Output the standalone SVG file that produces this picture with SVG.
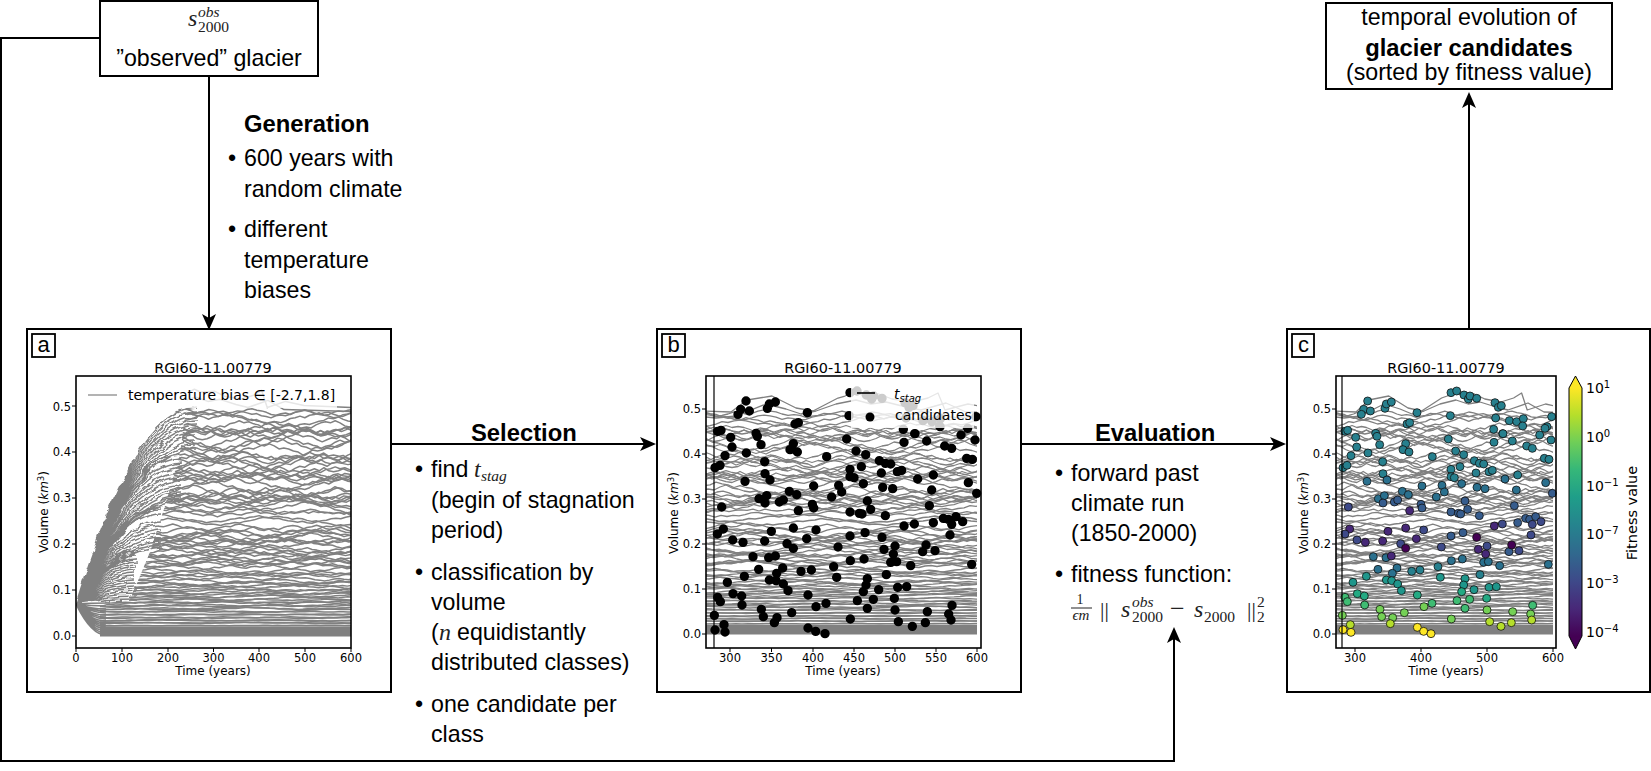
<svg xmlns="http://www.w3.org/2000/svg" width="1651" height="771" viewBox="0 0 1651 771">
<style>
text{font-family:"Liberation Sans",Arial,sans-serif;fill:#000}
.b23{font-size:23.2px}
.bold{font-size:23.8px;font-weight:bold}
.m{font-family:"Liberation Serif","Times New Roman",serif;font-style:italic;fill:#222}
.mu{font-family:"Liberation Serif","Times New Roman",serif;fill:#222}
.s14{font-size:15.5px}
.ax text,text.ax{font-family:"DejaVu Sans",sans-serif}
.tk{font-size:11.5px}.tx{text-anchor:middle}.ty{text-anchor:end}
.ttl{font-size:14.4px;text-anchor:middle}
.lab{font-size:12px;text-anchor:middle}
.leg{font-size:14px}
.frame{fill:#fff;stroke:#000;stroke-width:2}
.axes{fill:none;stroke:#000;stroke-width:1.6}
.tick{fill:none;stroke:#000;stroke-width:1}
.run{fill:none;vector-effect:non-scaling-stroke}
.runs{fill:none;stroke:#808080;stroke-linejoin:round}
.conn{fill:none;stroke:#000;stroke-width:2;marker-end:url(#arrow)}
.tag{fill:#fff;stroke:#000;stroke-width:1.8}
.tagt{font-size:22px;text-anchor:middle}
.legbox{fill:#fff;fill-opacity:.8}
#dotsC circle{stroke:#111;stroke-width:2.4}
.a{fill:#27808e}.b{fill:#2a708e}.c{fill:#365c8d}.d{fill:#3e4a89}.e{fill:#472878}.f{fill:#440154}.g{fill:#1f968b}.h{fill:#24aa83}.i{fill:#3fbc73}.j{fill:#74d055}.k{fill:#b5de2b}.l{fill:#fde725}
</style>
<defs>
<marker id="arrow" markerUnits="userSpaceOnUse" markerWidth="20" markerHeight="18" refX="14" refY="9" orient="auto"><path d="M1 2L17 9L1 16L5 9Z" fill="#000"/></marker>
<filter id="wig" x="-5%" y="-5%" width="110%" height="110%" color-interpolation-filters="sRGB"><feTurbulence type="fractalNoise" baseFrequency="0.05 0.07" numOctaves="3" seed="4" result="n"/><feDisplacementMap in="SourceGraphic" in2="n" scale="9" xChannelSelector="R" yChannelSelector="G"/></filter>
<clipPath id="clipA"><path d="M100 648V606L110 603L130 600L150 552L165 506L180 454L190 376H351V648Z"/></clipPath>
<clipPath id="clipA0"><rect x="76" y="376" width="275" height="272"/></clipPath>
<clipPath id="clipB"><rect x="706" y="376" width="271" height="272"/></clipPath>
<clipPath id="clipC"><rect x="1336" y="376" width="217" height="272"/></clipPath>
<linearGradient id="viridis" x1="0" y1="1" x2="0" y2="0"><stop offset="0" stop-color="#440154"/><stop offset=".11" stop-color="#482878"/><stop offset=".22" stop-color="#3e4989"/><stop offset=".33" stop-color="#31688e"/><stop offset=".44" stop-color="#26828e"/><stop offset=".56" stop-color="#1f9e89"/><stop offset=".67" stop-color="#35b779"/><stop offset=".78" stop-color="#6ece58"/><stop offset=".89" stop-color="#b5de2b"/><stop offset="1" stop-color="#fde725"/></linearGradient>
<path id="m1" class="run" d="M0 0l6 1 6-2 6-1 6 2 6 3 6-1 6-2 6-3 6 1 6 2 6-1 6-3 6-2 6 2 6 1 6 3 6 2 6-1 6 1 6 3 6-2 6-1 6-3 6 1 6-2 6-2 6 2 6 3 6 1 6-1 6 2 6 1 6 3 6-3 6-2 6-1 6-2 6 1 6-3 6-1 6 2 6 1 6 2 6 3 6 1 6-2 6-1 6 2 6-3 6-2 6-1 6 1 6 3 6 2 6 1 6-1 6-3 6-2 6 1 6-2 6-1 6 2 6 3 6 2 6-1 6-2 6 3 6 1 6-1 6-3 6-2 6 1 6 2 6-1 6-2 6-1 6 2 6 3 6 1 6 2 6-2 6-1 6-3 6 1 6 2 6 3 6-1 6-2 6 1 6-1 6 2 6 1 6-3 6-1"/>
<path id="m2" class="run" d="M0 0l6-2 6-1 6-3 6-2 6 1 6-2 6-1 6-3 6 2 6-1 6-2 6 1 6 3 6 2 6 1 6 3 6 2 6-1 6 3 6 1 6 2 6 2 6-1 6 1 6 3 6-2 6 1 6 2 6-1 6-3 6-2 6-1 6-3 6 1 6-2 6-3 6-1 6 2 6-3 6-1 6-2 6 1 6 2 6-1 6 2 6 3 6 2 6 1 6 3 6-1 6 2 6 1 6 3 6-2 6-1 6 1 6-2 6-3 6-1 6-2 6 2 6-3 6-1 6-2 6 3 6 1 6 2 6-1 6 3 6 2 6 1 6 2 6-2 6 3 6 1 6-3 6-2 6-1 6-3 6-1 6 1 6-3 6-2 6 2 6 1 6-1 6 3 6 2 6 1 6-1 6 3 6-2 6 1 6 2"/>
<path id="m3" class="run" d="M0 0l6 2 6 3 6 1 6-1 6 2 6 3 6-2 6 1 6 2 6-1 6-3 6-1 6-2 6-3 6 1 6-2 6-1 6 1 6-3 6-2 6 3 6 1 6 2 6 1 6-1 6 3 6 2 6-2 6 1 6 3 6 1 6-1 6-3 6-2 6 1 6-3 6-1 6-2 6 2 6-1 6-3 6 1 6 2 6 3 6-1 6 2 6 3 6 1 6 2 6-1 6-2 6 3 6-1 6-3 6-2 6 1 6-3 6-1 6-2 6 2 6-1 6 2 6 1 6 3 6 2 6-2 6 1 6 3 6-1 6 2 6-3 6-2 6-1 6 1 6-3 6-2 6-1 6 1 6-2 6 2 6 3 6 1 6-1 6 2 6 3 6-2 6 1 6-1 6-2 6 1 6-3 6 2 6-1 6 1"/>
<path id="m4" class="run" d="M0 0l6-1 6 2 6-2 6 1 6-3 6 2 6-1 6-2 6 3 6-1 6 2 6 1 6-2 6 3 6-3 6 1 6-1 6 2 6-2 6-1 6 1 6-2 6 3 6-3 6 2 6 1 6-1 6-2 6 2 6 3 6-2 6-1 6 1 6-3 6 2 6 1 6 3 6-1 6-2 6 1 6 2 6 3 6-3 6-1 6 2 6-2 6-1 6-3 6 1 6-2 6-1 6 2 6 3 6-1 6 1 6 3 6 2 6-1 6-3 6 1 6-2 6-1 6-2 6 1 6 3 6 2 6-1 6 2 6-2 6 3 6-3 6-1 6 1 6 2 6-2 6-1 6-3 6 2 6 1 6 3 6-1 6 1 6-2 6-1 6 3 6 1 6-2 6 2 6-1 6-3 6 2 6 1 6-2 6 1"/>
<g id="core" class="runs">
<use href="#m1" transform="translate(-20 414) scale(1 .7)"/>
<use href="#m2" transform="translate(-80 420) scale(1 .8)"/>
<use href="#m3" transform="translate(-150 425) scale(1 1)"/>
<use href="#m4" transform="translate(-40 431) scale(1 1)"/>
<use href="#m1" transform="translate(-120 437) scale(1 -1)"/>
<use href="#m2" transform="translate(-10 443) scale(1 1)"/>
<use href="#m3" transform="translate(-60 449) scale(1 -1)"/>
<use href="#m4" transform="translate(-170 455) scale(1 1)"/>
<use href="#m1" transform="translate(-90 460) scale(1 1)"/>
<use href="#m2" transform="translate(-140 465) scale(1 -1)"/>
<use href="#m3" transform="translate(-30 470) scale(1 .9)"/>
<use href="#m4" transform="translate(-110 475) scale(1 -1)"/>
<use href="#m1" transform="translate(-180 480) scale(1 -.9)"/>
<use href="#m2" transform="translate(-50 485) scale(1 .9)"/>
<use href="#m3" transform="translate(-100 490) scale(1 1)"/>
<use href="#m4" transform="translate(-15 494) scale(1 -.9)"/>
<use href="#m1" transform="translate(-160 498) scale(1 .8)"/>
<use href="#m2" transform="translate(-70 502) scale(1 -.8)"/>
<use href="#m3" transform="translate(-130 506) scale(1 -.7)"/>
<use href="#m4" transform="translate(-85 511) scale(1 .6)"/>
<use href="#m2" transform="translate(-155 519) scale(1 .5)"/>
<use href="#m1" transform="translate(-35 527) scale(1 .7)"/>
<use href="#m3" transform="translate(-175 531) scale(1 .7)"/>
<use href="#m2" transform="translate(-125 535) scale(1 -.7)"/>
<use href="#m4" transform="translate(-55 539) scale(1 .7)"/>
<use href="#m1" transform="translate(-145 543) scale(1 -.6)"/>
<use href="#m3" transform="translate(-5 547) scale(1 .6)"/>
<use href="#m2" transform="translate(-95 551) scale(1 .6)"/>
<use href="#m4" transform="translate(-185 555) scale(1 -.6)"/>
<use href="#m1" transform="translate(-65 559) scale(1 .6)"/>
<use href="#m3" transform="translate(-115 563) scale(1 -.5)"/>
<use href="#m2" transform="translate(-25 567) scale(1 .5)"/>
<use href="#m4" transform="translate(-155 571) scale(1 .4)"/>
<use href="#m1" transform="translate(-45 575) scale(1 -.4)"/>
<use href="#m3" transform="translate(-105 579) scale(1 .4)"/>
<use href="#m2" transform="translate(-165 582) scale(1 .3)"/>
<use href="#m4" transform="translate(-75 586) scale(1 -.3)"/>
<use href="#m1" transform="translate(-135 589) scale(1 .3)"/>
<use href="#m3" transform="translate(-20 592) scale(1 .2)"/>
<use href="#m2" transform="translate(-90 595) scale(1 -.2)"/>
<use href="#m4" transform="translate(-150 598) scale(1 .2)"/>
<use href="#m1" transform="translate(-60 601) scale(1 .2)"/>
<use href="#m3" transform="translate(-120 604) scale(1 .15)"/>
<use href="#m2" transform="translate(-40 607) scale(1 .15)"/>
<use href="#m4" transform="translate(-170 610) scale(1 .1)"/>
<use href="#m1" transform="translate(-80 613) scale(1 .1)"/>
<use href="#m3" transform="translate(-10 616) scale(1 .08)"/>
<use href="#m2" transform="translate(-130 618.500) scale(1 .08)"/>
<use href="#m4" transform="translate(-100 621) scale(1 .06)"/>
</g>
<g id="extra" class="runs">
<path class="run" d="M-30 410L25 412L41 400L66 396L90 408L107 411L132 398L139 396L148 392L156 395L173 394L186 399L206 402L222 398L232 393L239 410L262 404L285 408L345 410"/>
<path class="run" d="M-30 414L10 418L30 416L60 404L80 409L95 414L110 411L130 404L150 400L165 404L180 402L200 407L215 410L240 403L260 412L345 414"/>
<rect x="-30" y="624.500" width="400" height="10" fill="#808080" stroke="none"/>
</g>
</defs>
<rect width="1651" height="771" fill="#fff"/>

<g id="connectors">
<path class="conn" d="M209 76V327"/>
<path class="conn" d="M100 38H1V761H1174V630"/>
<path class="conn" d="M391 444H653"/>
<path class="conn" d="M1021 444H1283"/>
<path class="conn" d="M1469 329V95"/>
</g>

<g id="node-observed">
<rect x="100" y="1" width="218" height="75" fill="#fff" stroke="#000" stroke-width="2"/>
<text class="m" x="188" y="26" font-size="24">s</text><text class="m s14" x="198" y="17">obs</text><text class="mu s14" x="198" y="32">2000</text>
<text class="b23" x="209" y="66" text-anchor="middle">”observed” glacier</text>
</g>

<g id="node-result">
<rect x="1326" y="3" width="286" height="86" fill="#fff" stroke="#000" stroke-width="2"/>
<text class="b23" x="1469" y="25" text-anchor="middle">temporal evolution of</text>
<text class="bold" x="1469" y="56" text-anchor="middle">glacier candidates</text>
<text class="b23" x="1469" y="80" text-anchor="middle">(sorted by fitness value)</text>
</g>

<g id="note-generation">
<text class="bold" x="244" y="132">Generation</text>
<text class="b23" x="228" y="166">•</text><text class="b23" x="244" y="166">600 years with</text>
<text class="b23" x="244" y="197">random climate</text>
<text class="b23" x="228" y="237">•</text><text class="b23" x="244" y="237">different</text>
<text class="b23" x="244" y="268">temperature</text>
<text class="b23" x="244" y="298">biases</text>
</g>

<g id="note-selection">
<text class="bold" x="471" y="441">Selection</text>
<text class="b23" x="415" y="477">•</text><text class="b23" x="431" y="477">find</text><text class="m" x="474" y="477" font-size="24">t</text><text class="m s14" x="481" y="481">stag</text>
<text class="b23" x="431" y="508">(begin of stagnation</text>
<text class="b23" x="431" y="538">period)</text>
<text class="b23" x="415" y="580">•</text><text class="b23" x="431" y="580">classification by</text>
<text class="b23" x="431" y="610">volume</text>
<text class="b23" x="431" y="640">(</text><text class="m" x="439" y="640" font-size="24">n</text><text class="b23" x="457" y="640">equidistantly</text>
<text class="b23" x="431" y="670">distributed classes)</text>
<text class="b23" x="415" y="712">•</text><text class="b23" x="431" y="712">one candidate per</text>
<text class="b23" x="431" y="742">class</text>
</g>

<g id="note-evaluation">
<text class="bold" x="1095" y="441">Evaluation</text>
<text class="b23" x="1055" y="481">•</text><text class="b23" x="1071" y="481">forward past</text>
<text class="b23" x="1071" y="511">climate run</text>
<text class="b23" x="1071" y="541">(1850-2000)</text>
<text class="b23" x="1055" y="582">•</text><text class="b23" x="1071" y="582">fitness function:</text>
<text class="mu" x="1080" y="604" font-size="14" text-anchor="middle">1</text>
<path d="M1071 608H1092" stroke="#222" stroke-width="1"/>
<text class="m" x="1081" y="620" font-size="15" text-anchor="middle">ϵm</text>
<text class="mu" x="1100" y="617" font-size="22">||</text>
<text class="m" x="1121" y="617" font-size="24">s</text><text class="m s14" x="1132" y="607">obs</text><text class="mu s14" x="1132" y="622">2000</text>
<text class="mu" x="1170" y="617" font-size="26">−</text>
<text class="m" x="1194" y="617" font-size="24">s</text><text class="mu s14" x="1204" y="622">2000</text>
<text class="mu" x="1247" y="617" font-size="22">||</text>
<text class="mu s14" x="1257" y="607">2</text><text class="mu s14" x="1257" y="622">2</text>
</g>

<g id="panel-a" class="ax">
<rect class="frame" x="27" y="329" width="364" height="363"/>
<g clip-path="url(#clipA)">
<use href="#core" stroke-width="1.5" transform="translate(76 -10.680) scale(.8 1.02)"/>
<use href="#core" stroke-width="1.5" transform="translate(351 -8) scale(-.8 1.02)"/>
<use href="#extra" stroke-width="1.5" transform="translate(76 -10.680) scale(.8 1.02)"/>
</g>
<g clip-path="url(#clipA0)"><g filter="url(#wig)">
<path class="runs" stroke-width="1.5" d="M76 604Q136 408 196 408M76 604Q136 412 196 412M76 604Q136 416 196 416M76 604Q136 420 196 420M76 604Q136 424 196 424M76 604Q136 428 196 428M76 604Q136 432 196 432M76 604Q136 436 196 436M76 604Q136 441 196 441M76 604Q136 445 196 445M76 604Q136 449 196 449M76 604Q128 454 181 454M76 604Q128 458 181 458M76 604Q128 463 181 463M76 604Q128 467 181 467M76 604Q128 472 181 472M76 604Q128 476 181 476M76 604Q128 480 181 480M76 604Q128 485 181 485M76 604Q128 489 181 489M76 604Q128 493 181 493M76 604Q128 497 181 497M76 604Q128 499 181 499M76 604Q128 502 181 502M76 604Q118 506 161 506M76 604Q118 509 161 509M76 604Q118 514 161 514M76 604Q118 522 161 522M76 604Q118 526 161 526M76 604Q118 530 161 530M76 604Q118 534 161 534M76 604Q118 538 161 538M76 604Q118 542 161 542M76 604Q118 545 161 545M76 604Q118 548 161 548M76 604Q106 552 136 552M76 604Q106 555 136 555M76 604Q106 558 136 558M76 604Q106 561 136 561M76 604Q106 564 136 564M76 604Q106 567 136 567M76 604Q106 570 136 570M76 604Q106 573 136 573M76 604Q106 576 136 576M76 604Q106 579 136 579M76 604Q106 582 136 582M76 604Q106 585 136 585M76 604Q106 588 136 588M76 604Q106 591 136 591M76 604Q106 594 136 594M76 604Q106 597 136 597M76 604Q106 600 136 600"/>
</g>
<path class="runs" stroke-width="1.5" d="M76 604Q90 603 110 603M76 604Q91 606 106 606M76 604Q91 609 106 609M76 604Q91 611 106 611M76 604Q91 613 106 613M76 604Q91 615 106 615M76 604Q91 617 106 617M76 604Q91 619 106 619M76 604Q91 621 106 621M76 604Q91 623 106 623M76 604Q91 625 106 625M76 604Q91 627 106 627M76 604Q91 629 106 629M76 604Q91 631 106 631M76 604Q91 633 106 633M76 604Q91 635 106 635"/>
</g>
<rect class="legbox" x="83" y="383" width="254" height="25"/>
<path d="M88 395H117" stroke="#808080" stroke-width="1.2"/>
<text class="leg" x="128" y="400">temperature bias ∈ [-2.7,1.8]</text>
<rect class="axes" x="76" y="376" width="275" height="272"/>
<path class="tick" d="M76 648v4M122 648v4M168 648v4M213.500 648v4M259 648v4M305 648v4M351 648v4M76 636h-4M76 590h-4M76 544h-4M76 498h-4M76 452h-4M76 406h-4"/>
<g class="tk tx"><text x="76" y="662">0</text><text x="122" y="662">100</text><text x="168" y="662">200</text><text x="213.500" y="662">300</text><text x="259" y="662">400</text><text x="305" y="662">500</text><text x="351" y="662">600</text></g>
<g class="tk ty"><text x="71" y="640">0.0</text><text x="71" y="594">0.1</text><text x="71" y="548">0.2</text><text x="71" y="502">0.3</text><text x="71" y="456">0.4</text><text x="71" y="411">0.5</text></g>
<text class="ttl" x="213" y="373">RGI60-11.00779</text>
<text class="lab" x="213" y="675">Time (years)</text>
<text class="lab" transform="translate(48 512) rotate(-90)">Volume (<tspan font-style="italic">km</tspan><tspan font-size="8.500" dy="-4">3</tspan><tspan dy="4">)</tspan></text>
<rect class="tag" x="32" y="334" width="23" height="23"/><text class="tagt" x="43.500" y="352" style="font-family:'Liberation Sans',sans-serif">a</text>
</g>

<g id="panel-b" class="ax">
<rect class="frame" x="657" y="329" width="364" height="363"/>
<g clip-path="url(#clipB)">
<use href="#core" stroke-width="1.3" transform="translate(706 0)"/>
<use href="#core" stroke-width="1.3" transform="translate(1050 2.500) scale(-1 1)"/>
<use href="#extra" stroke-width="1.3" transform="translate(706 0)"/>
</g>
<path transform="translate(650 320) scale(.33333)" fill="none" stroke="#000" stroke-width="28" stroke-linecap="round" d="M288 243h.1M272 268h.1M264 283h.1M298 273h.1M352 265h.1M358 252h.1M376 246h.1M472 278h.1M435 312h.1M445 308h.1M203 334h.1M213 331h.1M318 340h.1M322 349h.1M242 352h.1M246 381h.1M333 374h.1M289 399h.1M225 407h.1M430 371h.1M420 389h.1M442 396h.1M530 410h.1M590 357h.1M597 287h.1M600 218h.1M621 213h.1M649 225h.1M665 237h.1M671 228h.1M696 235h.1M765 248h.1M777 262h.1M789 257h.1M768 294h.1M819 302h.1M846 305h.1M871 296h.1M869 318h.1M794 341h.1M195 443h.1M210 436h.1M344 425h.1M345 461h.1M360 480h.1M285 484h.1M327 536h.1M350 527h.1M345 549h.1M388 546h.1M400 540h.1M418 514h.1M440 524h.1M491 498h.1M487 553h.1M491 564h.1M445 572h.1M215 561h.1M566 496h.1M575 516h.1M545 531h.1M600 448h.1M600 470h.1M612 473h.1M618 393h.1M634 440h.1M647 404h.1M640 491h.1M652 543h.1M662 568h.1M600 576h.1M628 580h.1M636 582h.1M688 422h.1M706 430h.1M722 432h.1M694 459h.1M698 502h.1M728 506h.1M742 455h.1M755 451h.1M706 587h.1M803 477h.1M850 465h.1M845 510h.1M838 557h.1M955 488h.1M980 520h.1M762 367h.1M795 341h.1M830 363h.1M884 378h.1M905 385h.1M933 345h.1M975 360h.1M950 415h.1M967 418h.1M978 290h.1M760 328h.1M870 320h.1M953 325h.1M762 618h.1M793 612h.1M850 608h.1M880 595h.1M895 598h.1M905 613h.1M918 590h.1M938 605h.1M900 645h.1M645 638h.1M600 648h.1M696 652h.1M702 688h.1M735 678h.1M730 702h.1M722 727h.1M740 725h.1M782 737h.1M818 695h.1M828 675h.1M855 692h.1M965 733h.1M564 681h.1M470 656h.1M498 630h.1M430 624h.1M364 634h.1M220 627h.1M202 642h.1M248 660h.1M279 667h.1M344 663h.1M411 671h.1M430 685h.1M309 710h.1M356 713h.1M376 708h.1M326 748h.1M398 744h.1M380 760h.1M358 780h.1M378 782h.1M400 792h.1M414 812h.1M283 769h.1M232 787h.1M249 821h.1M275 828h.1M203 832h.1M211 845h.1M276 855h.1M453 754h.1M484 750h.1M551 740h.1M560 772h.1M601 722h.1M642 717h.1M652 776h.1M648 795h.1M640 815h.1M622 842h.1M670 838h.1M686 809h.1M709 764h.1M743 802h.1M770 800h.1M733 835h.1M735 870h.1M745 905h.1M652 865h.1M601 897h.1M474 825h.1M498 860h.1M528 850h.1M334 868h.1M340 890h.1M381 893h.1M373 908h.1M425 878h.1M474 924h.1M497 934h.1M525 941h.1M193 886h.1M195 930h.1M222 914h.1M225 936h.1M787 919h.1M826 908h.1M832 875h.1M896 882h.1M906 856h.1M903 900h.1"/>
<rect class="legbox" x="851" y="383" width="123" height="45"/>
<path d="M857 393H875" stroke="#000" stroke-width="1.6"/>
<circle cx="870" cy="417" r="4.500" fill="#000"/>
<text x="894" y="399" class="leg" font-style="italic">t<tspan font-size="10" dy="3">stag</tspan></text>
<text class="leg" x="895" y="420">candidates</text>
<path d="M714 376V648" stroke="#000" stroke-width="1.200"/>
<rect class="axes" x="706" y="376" width="275" height="272"/>
<path class="tick" d="M730 648v4M771.500 648v4M813 648v4M854 648v4M895 648v4M936 648v4M977 648v4M706 634h-4M706 589h-4M706 544h-4M706 499h-4M706 454h-4M706 409h-4"/>
<g class="tk tx"><text x="730" y="662">300</text><text x="771.500" y="662">350</text><text x="813" y="662">400</text><text x="854" y="662">450</text><text x="895" y="662">500</text><text x="936" y="662">550</text><text x="977" y="662">600</text></g>
<g class="tk ty"><text x="701" y="638">0.0</text><text x="701" y="593">0.1</text><text x="701" y="548">0.2</text><text x="701" y="503">0.3</text><text x="701" y="458">0.4</text><text x="701" y="413">0.5</text></g>
<text class="ttl" x="843" y="373">RGI60-11.00779</text>
<text class="lab" x="843" y="675">Time (years)</text>
<text class="lab" transform="translate(678 513) rotate(-90)">Volume (<tspan font-style="italic">km</tspan><tspan font-size="8.500" dy="-4">3</tspan><tspan dy="4">)</tspan></text>
<rect class="tag" x="662" y="334" width="23" height="23"/><text class="tagt" x="673.500" y="352" style="font-family:'Liberation Sans',sans-serif">b</text>
</g>

<g id="panel-c" class="ax">
<rect class="frame" x="1287" y="329" width="363" height="363"/>
<g clip-path="url(#clipC)">
<use href="#core" stroke-width="1.3" transform="translate(1336 0) scale(.8 1)"/>
<use href="#core" stroke-width="1.3" transform="translate(1611.200 2.500) scale(-.8 1)"/>
<use href="#extra" stroke-width="1.3" transform="translate(1336 0) scale(.8 1)"/>
</g>
<g id="dotsC" transform="translate(1280 320) scale(.33333)">
<circle class="a" cx="263" cy="243" r="12"/><circle class="a" cx="251" cy="268" r="12"/><circle class="a" cx="244" cy="283" r="12"/><circle class="a" cx="271" cy="273" r="12"/><circle class="a" cx="315" cy="265" r="12"/><circle class="a" cx="319" cy="252" r="12"/><circle class="a" cx="334" cy="246" r="12"/><circle class="a" cx="411" cy="278" r="12"/><circle class="a" cx="381" cy="312" r="12"/><circle class="a" cx="389" cy="308" r="12"/><circle class="a" cx="195" cy="334" r="12"/><circle class="a" cx="203" cy="331" r="12"/><circle class="a" cx="287" cy="340" r="12"/><circle class="a" cx="291" cy="349" r="12"/><circle class="a" cx="227" cy="352" r="12"/><circle class="a" cx="230" cy="381" r="12"/><circle class="a" cx="299" cy="374" r="12"/><circle class="a" cx="264" cy="399" r="12"/><circle class="a" cx="213" cy="407" r="12"/><circle class="a" cx="377" cy="371" r="12"/><circle class="a" cx="369" cy="389" r="12"/><circle class="a" cx="387" cy="396" r="12"/><circle class="a" cx="457" cy="410" r="12"/><circle class="a" cx="505" cy="357" r="12"/><circle class="a" cx="511" cy="287" r="12"/><circle class="a" cx="513" cy="218" r="12"/><circle class="a" cx="530" cy="213" r="12"/><circle class="a" cx="552" cy="225" r="12"/><circle class="a" cx="565" cy="237" r="12"/><circle class="a" cx="570" cy="228" r="12"/><circle class="a" cx="590" cy="235" r="12"/><circle class="a" cx="645" cy="248" r="12"/><circle class="a" cx="655" cy="262" r="12"/><circle class="a" cx="664" cy="257" r="12"/><circle class="a" cx="647" cy="294" r="12"/><circle class="a" cx="688" cy="302" r="12"/><circle class="a" cx="710" cy="305" r="12"/><circle class="a" cx="730" cy="296" r="12"/><circle class="a" cx="728" cy="318" r="12"/><circle class="a" cx="668" cy="341" r="12"/><circle class="a" cx="189" cy="443" r="12"/><circle class="a" cx="201" cy="436" r="12"/><circle class="a" cx="308" cy="425" r="12"/><circle class="a" cx="309" cy="461" r="12"/><circle class="b" cx="321" cy="480" r="12"/><circle class="b" cx="261" cy="484" r="12"/><circle class="b" cx="295" cy="536" r="12"/><circle class="b" cx="313" cy="527" r="12"/><circle class="c" cx="309" cy="549" r="12"/><circle class="c" cx="343" cy="546" r="12"/><circle class="c" cx="353" cy="540" r="12"/><circle class="b" cx="367" cy="514" r="12"/><circle class="b" cx="385" cy="524" r="12"/><circle class="b" cx="426" cy="498" r="12"/><circle class="c" cx="423" cy="553" r="12"/><circle class="c" cx="426" cy="564" r="12"/><circle class="e" cx="389" cy="572" r="12"/><circle class="d" cx="205" cy="561" r="12"/><circle class="b" cx="486" cy="496" r="12"/><circle class="b" cx="493" cy="516" r="12"/><circle class="b" cx="469" cy="531" r="12"/><circle class="a" cx="513" cy="448" r="12"/><circle class="a" cx="513" cy="470" r="12"/><circle class="a" cx="523" cy="473" r="12"/><circle class="a" cx="527" cy="393" r="12"/><circle class="a" cx="540" cy="440" r="12"/><circle class="a" cx="551" cy="404" r="12"/><circle class="b" cx="545" cy="491" r="12"/><circle class="c" cx="555" cy="543" r="12"/><circle class="c" cx="563" cy="568" r="12"/><circle class="c" cx="513" cy="576" r="12"/><circle class="c" cx="535" cy="580" r="12"/><circle class="c" cx="542" cy="582" r="12"/><circle class="a" cx="583" cy="422" r="12"/><circle class="a" cx="598" cy="430" r="12"/><circle class="a" cx="611" cy="432" r="12"/><circle class="a" cx="588" cy="459" r="12"/><circle class="b" cx="591" cy="502" r="12"/><circle class="b" cx="615" cy="506" r="12"/><circle class="a" cx="627" cy="455" r="12"/><circle class="a" cx="637" cy="451" r="12"/><circle class="c" cx="598" cy="587" r="12"/><circle class="b" cx="675" cy="477" r="12"/><circle class="a" cx="713" cy="465" r="12"/><circle class="b" cx="709" cy="510" r="12"/><circle class="c" cx="703" cy="557" r="12"/><circle class="b" cx="797" cy="488" r="12"/><circle class="c" cx="817" cy="520" r="12"/><circle class="a" cx="642" cy="367" r="12"/><circle class="a" cx="669" cy="341" r="12"/><circle class="a" cx="697" cy="363" r="12"/><circle class="a" cx="740" cy="378" r="12"/><circle class="a" cx="757" cy="385" r="12"/><circle class="a" cx="779" cy="345" r="12"/><circle class="a" cx="813" cy="360" r="12"/><circle class="a" cx="793" cy="415" r="12"/><circle class="a" cx="807" cy="418" r="12"/><circle class="a" cx="815" cy="290" r="12"/><circle class="a" cx="641" cy="328" r="12"/><circle class="a" cx="801" cy="320" r="12"/><circle class="a" cx="795" cy="325" r="12"/><circle class="e" cx="643" cy="618" r="12"/><circle class="d" cx="667" cy="612" r="12"/><circle class="c" cx="713" cy="608" r="12"/><circle class="c" cx="737" cy="595" r="12"/><circle class="c" cx="749" cy="598" r="12"/><circle class="d" cx="757" cy="613" r="12"/><circle class="c" cx="767" cy="590" r="12"/><circle class="d" cx="783" cy="605" r="12"/><circle class="d" cx="753" cy="645" r="12"/><circle class="c" cx="549" cy="638" r="12"/><circle class="c" cx="513" cy="648" r="12"/><circle class="f" cx="590" cy="652" r="12"/><circle class="e" cx="595" cy="688" r="12"/><circle class="d" cx="621" cy="678" r="12"/><circle class="e" cx="617" cy="702" r="12"/><circle class="b" cx="611" cy="727" r="12"/><circle class="b" cx="625" cy="725" r="12"/><circle class="b" cx="659" cy="737" r="12"/><circle class="c" cx="687" cy="695" r="12"/><circle class="f" cx="695" cy="675" r="12"/><circle class="d" cx="717" cy="692" r="12"/><circle class="b" cx="805" cy="733" r="12"/><circle class="d" cx="484" cy="681" r="12"/><circle class="e" cx="409" cy="656" r="12"/><circle class="d" cx="431" cy="630" r="12"/><circle class="e" cx="377" cy="624" r="12"/><circle class="e" cx="324" cy="634" r="12"/><circle class="e" cx="209" cy="627" r="12"/><circle class="d" cx="195" cy="642" r="12"/><circle class="d" cx="231" cy="660" r="12"/><circle class="e" cx="256" cy="667" r="12"/><circle class="e" cx="308" cy="663" r="12"/><circle class="d" cx="362" cy="671" r="12"/><circle class="f" cx="377" cy="685" r="12"/><circle class="b" cx="280" cy="710" r="12"/><circle class="b" cx="318" cy="713" r="12"/><circle class="e" cx="334" cy="708" r="12"/><circle class="b" cx="294" cy="748" r="12"/><circle class="b" cx="351" cy="744" r="12"/><circle class="b" cx="337" cy="760" r="12"/><circle class="g" cx="319" cy="780" r="12"/><circle class="g" cx="335" cy="782" r="12"/><circle class="g" cx="353" cy="792" r="12"/><circle class="g" cx="364" cy="812" r="12"/><circle class="g" cx="259" cy="769" r="12"/><circle class="g" cx="219" cy="787" r="12"/><circle class="h" cx="232" cy="821" r="12"/><circle class="h" cx="253" cy="828" r="12"/><circle class="i" cx="195" cy="832" r="12"/><circle class="i" cx="202" cy="845" r="12"/><circle class="i" cx="254" cy="855" r="12"/><circle class="a" cx="395" cy="754" r="12"/><circle class="a" cx="420" cy="750" r="12"/><circle class="a" cx="474" cy="740" r="12"/><circle class="g" cx="481" cy="772" r="12"/><circle class="b" cx="514" cy="722" r="12"/><circle class="b" cx="547" cy="717" r="12"/><circle class="g" cx="555" cy="776" r="12"/><circle class="g" cx="551" cy="795" r="12"/><circle class="h" cx="545" cy="815" r="12"/><circle class="i" cx="531" cy="842" r="12"/><circle class="i" cx="569" cy="838" r="12"/><circle class="g" cx="582" cy="809" r="12"/><circle class="a" cx="600" cy="764" r="12"/><circle class="g" cx="627" cy="802" r="12"/><circle class="g" cx="649" cy="800" r="12"/><circle class="h" cx="620" cy="835" r="12"/><circle class="j" cx="621" cy="870" r="12"/><circle class="k" cx="629" cy="905" r="12"/><circle class="i" cx="555" cy="865" r="12"/><circle class="j" cx="514" cy="897" r="12"/><circle class="h" cx="412" cy="825" r="12"/><circle class="j" cx="432" cy="860" r="12"/><circle class="i" cx="456" cy="850" r="12"/><circle class="j" cx="300" cy="868" r="12"/><circle class="j" cx="305" cy="890" r="12"/><circle class="j" cx="338" cy="893" r="12"/><circle class="k" cx="331" cy="911" r="12"/><circle class="j" cx="373" cy="878" r="12"/><circle class="l" cx="412" cy="922" r="12"/><circle class="l" cx="431" cy="934" r="12"/><circle class="l" cx="453" cy="941" r="12"/><circle class="j" cx="187" cy="886" r="12"/><circle class="l" cx="189" cy="929" r="12"/><circle class="k" cx="211" cy="914" r="12"/><circle class="l" cx="213" cy="937" r="12"/><circle class="k" cx="663" cy="919" r="12"/><circle class="k" cx="694" cy="908" r="12"/><circle class="j" cx="698" cy="875" r="12"/><circle class="j" cx="752" cy="882" r="12"/><circle class="i" cx="758" cy="856" r="12"/><circle class="k" cx="755" cy="900" r="12"/>
</g>
<path d="M1342 376V648" stroke="#000" stroke-width="1.200"/>
<rect class="axes" x="1336" y="376" width="220" height="272"/>
<path class="tick" d="M1355 648v4M1421 648v4M1487 648v4M1553 648v4M1336 634h-4M1336 589h-4M1336 544h-4M1336 499h-4M1336 454h-4M1336 409h-4"/>
<g class="tk tx"><text x="1355" y="662">300</text><text x="1421" y="662">400</text><text x="1487" y="662">500</text><text x="1553" y="662">600</text></g>
<g class="tk ty"><text x="1331" y="638">0.0</text><text x="1331" y="593">0.1</text><text x="1331" y="548">0.2</text><text x="1331" y="503">0.3</text><text x="1331" y="458">0.4</text><text x="1331" y="413">0.5</text></g>
<text class="ttl" x="1446" y="373">RGI60-11.00779</text>
<text class="lab" x="1446" y="675">Time (years)</text>
<text class="lab" transform="translate(1308 513) rotate(-90)">Volume (<tspan font-style="italic">km</tspan><tspan font-size="8.500" dy="-4">3</tspan><tspan dy="4">)</tspan></text>
<rect class="tag" x="1292" y="334" width="22" height="23"/><text class="tagt" x="1303.500" y="352" style="font-family:'Liberation Sans',sans-serif">c</text>
<path d="M1569 388L1575.500 376L1582 388Z" fill="#fde725"/>
<path d="M1569 636L1575.500 649L1582 636Z" fill="#440154"/>
<rect x="1569" y="388" width="13" height="248" fill="url(#viridis)"/>
<path d="M1569 388L1575.500 376L1582 388V636L1575.500 649L1569 636Z" fill="none" stroke="#000" stroke-width="1"/>
<g font-size="14"><text x="1586" y="393">10<tspan font-size="10" dy="-5">1</tspan></text><text x="1586" y="442">10<tspan font-size="10" dy="-5">0</tspan></text><text x="1586" y="491">10<tspan font-size="10" dy="-5">−1</tspan></text><text x="1586" y="539">10<tspan font-size="10" dy="-5">−7</tspan></text><text x="1586" y="588">10<tspan font-size="10" dy="-5">−3</tspan></text><text x="1586" y="637">10<tspan font-size="10" dy="-5">−4</tspan></text></g>
<text transform="translate(1637 513) rotate(-90)" font-size="14.500" text-anchor="middle">Fitness value</text>
</g>
</svg>
